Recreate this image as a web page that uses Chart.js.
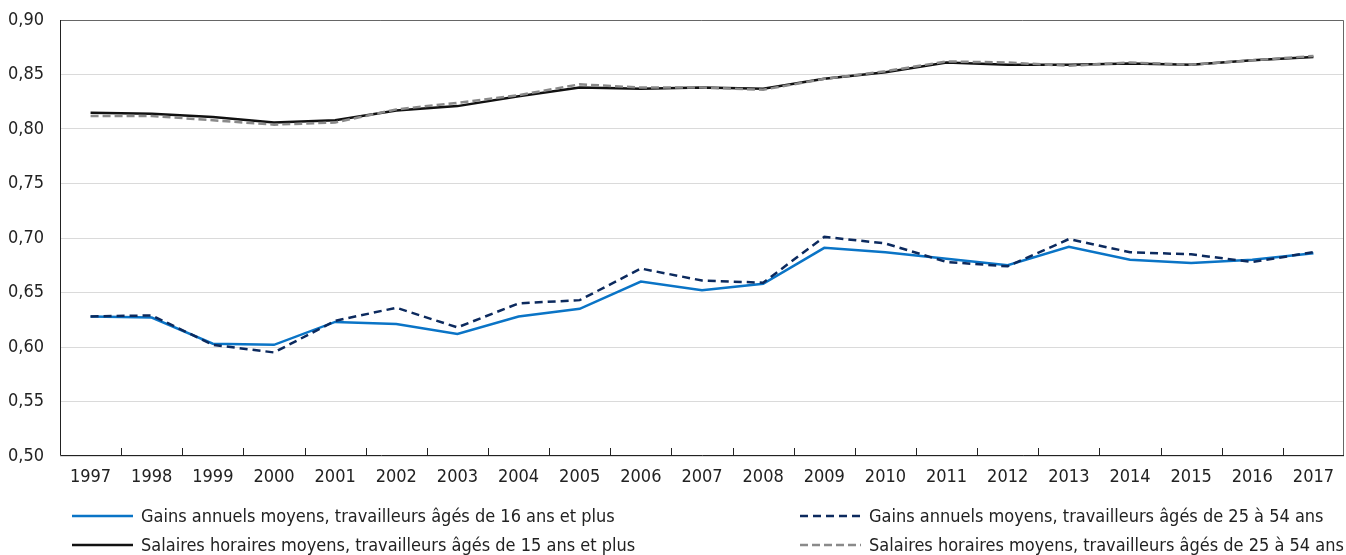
<!DOCTYPE html>
<html lang="fr">
<head>
<meta charset="utf-8">
<title>Gains et salaires</title>
<script src="https://cdn.jsdelivr.net/npm/chart.js@4/dist/chart.umd.min.js"></script>
<style>
  body { margin: 0; background: #fff; }
  #zone { width: 1346px; height: 555px; }
</style>
</head>
<body>
<div id="zone"><canvas id="graphique"></canvas></div>
<script>
/* Données */
const annees = ["1997", "1998", "1999", "2000", "2001", "2002", "2003", "2004", "2005", "2006", "2007",
  "2008", "2009", "2010", "2011", "2012", "2013", "2014", "2015", "2016", "2017"];

const gainsTous = [0.628, 0.627, 0.603, 0.602, 0.623, 0.621, 0.612, 0.628, 0.635, 0.660, 0.652,
  0.658, 0.691, 0.687, 0.681, 0.675, 0.692, 0.680, 0.677, 0.680, 0.686];

const gains2554 = [0.628, 0.629, 0.602, 0.595, 0.624, 0.636, 0.618, 0.640, 0.643, 0.672, 0.661,
  0.659, 0.701, 0.695, 0.678, 0.674, 0.699, 0.687, 0.685, 0.678, 0.687];

const salairesTous = [0.815, 0.814, 0.811, 0.806, 0.808, 0.817, 0.821, 0.830, 0.838, 0.837, 0.838,
  0.837, 0.846, 0.852, 0.861, 0.859, 0.859, 0.860, 0.859, 0.863, 0.866];

const salaires2554 = [0.812, 0.812, 0.808, 0.804, 0.806, 0.818, 0.824, 0.831, 0.841, 0.838, 0.838,
  0.836, 0.846, 0.853, 0.862, 0.861, 0.858, 0.861, 0.859, 0.863, 0.867];

const libelles = [
  "Gains annuels moyens, travailleurs âgés de 16 ans et plus",
  "Gains annuels moyens, travailleurs âgés de 25 à 54 ans",
  "Salaires horaires moyens, travailleurs âgés de 15 ans et plus",
  "Salaires horaires moyens, travailleurs âgés de 25 à 54 ans"
];

Chart.defaults.font.family = "'DejaVu Sans Condensed', 'Liberation Sans Narrow', sans-serif";
Chart.defaults.font.size = 18;
Chart.defaults.color = "#222";

// cadre, petites graduations et légende sur deux colonnes
const cadre = {
  id: "cadre",
  beforeDatasetsDraw(chart) {
    const { ctx, chartArea: a, scales } = chart;
    ctx.save();
    ctx.lineWidth = 1;
    ctx.strokeStyle = "#666";
    ctx.beginPath();
    ctx.moveTo(a.left, a.top + 0.5);
    ctx.lineTo(a.right - 0.5, a.top + 0.5);
    ctx.lineTo(a.right - 0.5, a.bottom);
    ctx.stroke();
    ctx.strokeStyle = "#222";
    ctx.beginPath();
    ctx.moveTo(a.left + 0.5, a.top);
    ctx.lineTo(a.left + 0.5, a.bottom - 0.5);
    ctx.lineTo(a.right, a.bottom - 0.5);
    for (let i = 1; i < annees.length; i++) {
      const x = Math.round((scales.x.getPixelForValue(i) + scales.x.getPixelForValue(i - 1)) / 2) + 0.5;
      ctx.moveTo(x, a.bottom);
      ctx.lineTo(x, a.bottom - 8);
    }
    ctx.stroke();
    ctx.restore();
  },
  afterDraw(chart) {
    const ctx = chart.ctx;
    const colX = [72, 800];
    const rowY = [516, 545];
    ctx.save();
    ctx.font = "18px " + Chart.defaults.font.family;
    ctx.fillStyle = "#222";
    ctx.textBaseline = "middle";
    chart.data.datasets.forEach((ds, i) => {
      const x = colX[i % 2];
      const y = rowY[Math.floor(i / 2)];
      ctx.strokeStyle = ds.borderColor;
      ctx.lineWidth = ds.borderWidth;
      ctx.setLineDash(ds.borderDash || []);
      ctx.beginPath();
      ctx.moveTo(x, y);
      ctx.lineTo(x + 61, y);
      ctx.stroke();
      ctx.fillText(ds.label, x + 69, y + 1);
    });
    ctx.restore();
  }
};

new Chart(document.getElementById("graphique"), {
  type: "line",
  data: {
    labels: annees,
    datasets: [
      { label: libelles[0], data: gainsTous, borderColor: "#0a74c6", borderWidth: 2.5, order: 4 },
      { label: libelles[1], data: gains2554, borderColor: "#0c2a5e", borderWidth: 2.5, borderDash: [8, 5], order: 3 },
      { label: libelles[2], data: salairesTous, borderColor: "#111111", borderWidth: 2.5, order: 2 },
      { label: libelles[3], data: salaires2554, borderColor: "#8a8a8a", borderWidth: 2.5, borderDash: [8, 4], order: 1 }
    ]
  },
  options: {
    responsive: true,
    maintainAspectRatio: false,
    animation: false,
    layout: { padding: { top: 20, right: 2, left: 8, bottom: 0 } },
    elements: { point: { radius: 0 }, line: { tension: 0 } },
    plugins: { legend: { display: false }, tooltip: { enabled: false } },
    scales: {
      x: {
        offset: true,
        grid: { display: false },
        border: { display: false },
        ticks: { padding: 3, maxRotation: 0, autoSkip: false },
        afterFit(s) { s.height = 99; }
      },
      y: {
        min: 0.5,
        max: 0.9,
        grid: { color: "#dadada", drawTicks: false },
        border: { display: false },
        ticks: {
          stepSize: 0.05,
          padding: 0,
          crossAlign: "far",
          callback: v => v.toFixed(2).replace(".", ",")
        },
        afterFit(s) { s.width = 52; }
      }
    }
  },
  plugins: [cadre]
});
</script>
</body>
</html>
